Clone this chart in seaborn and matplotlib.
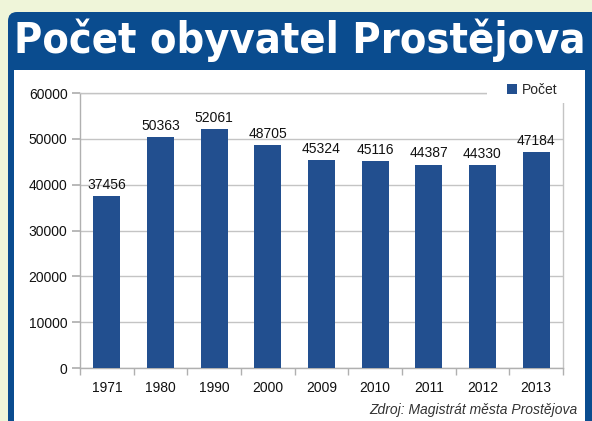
import matplotlib
matplotlib.use("Agg")
import matplotlib.pyplot as plt
import seaborn as sns
import pandas as pd
from matplotlib.patches import FancyBboxPatch, Rectangle

years = ["1971", "1980", "1990", "2000", "2009", "2010", "2011", "2012", "2013"]
population = [37456, 50363, 52061, 48705, 45324, 45116, 44387, 44330, 47184]
y_ticks = [0, 10000, 20000, 30000, 40000, 50000, 60000]
series_name = "Počet"
title = "Počet obyvatel Prostějova"
source = "Zdroj: Magistrát města Prostějova"

df = pd.DataFrame({"Rok": years, "Počet": population})

sns.set_theme(style="white")
plt.rcParams['font.family'] = ['Liberation Sans', 'DejaVu Sans']

BG = "#eff5d9"
FRAME = "#0a4c8f"
BAR = "#224f8f"
GRID = "#c4c4c4"

fig = plt.figure(figsize=(5.92, 4.21), dpi=100)
fig.patch.set_facecolor(BG)

frame = FancyBboxPatch((0.08, -0.3), 6.3, 4.09 + 0.3, boxstyle="round,pad=0,rounding_size=0.09",
                       transform=fig.dpi_scale_trans, facecolor=FRAME, edgecolor="none", zorder=-3)
fig.add_artist(frame)
panel = Rectangle((0.14, -0.2), 5.71, 3.51 + 0.2, transform=fig.dpi_scale_trans,
                  facecolor="white", edgecolor="none", zorder=-2)
fig.add_artist(panel)

fig.text(300 / 592, 1 - 40 / 421, title, color="white", fontsize=31, fontweight="bold",
         fontstretch="condensed", family=["DejaVu Sans"], ha="center", va="center")

ax = fig.add_axes([80 / 592, 1 - 368 / 421, (563 - 80) / 592, (368 - 93) / 421])
ax.set_facecolor("none")
sns.barplot(data=df, x="Rok", y="Počet", color=BAR, width=0.5, ax=ax, label=series_name,
            saturation=1, zorder=3, linewidth=0, edgecolor="none")
ax.set_ylim(0, 60000)
ax.set_xlim(-0.5, len(years) - 0.5)
ax.set_yticks(y_ticks)
ax.set_yticklabels([str(t) for t in y_ticks])
ax.yaxis.grid(True, color=GRID, linewidth=1, zorder=0)
ax.set_axisbelow(True)
for s in ["left", "bottom", "right", "top"]:
    ax.spines[s].set_visible(True)
    ax.spines[s].set_color(GRID)
    ax.spines[s].set_linewidth(1)
ax.spines["left"].set_color("#b0b0b0")
ax.spines["bottom"].set_color("#b0b0b0")
ax.set_xlabel("")
ax.set_ylabel("")
ax.tick_params(axis="y", length=6, color="#b0b0b0", labelsize=10, pad=3, labelcolor="#111111", left=True)
ax.tick_params(axis="x", which="major", length=0, labelsize=10, pad=9, labelcolor="#111111")
ax.set_xticks([i - 0.5 for i in range(len(years) + 1)], minor=True)
ax.tick_params(axis="x", which="minor", length=5, color="#b0b0b0", bottom=True)

for i, v in enumerate(population):
    ax.text(i, v + 900, str(v), ha="center", va="bottom", fontsize=10, color="#111111", zorder=4)

# white area behind the legend (covers top-right of plot frame)
cover = Rectangle((4.87, 3.18), 0.9, 0.3, transform=fig.dpi_scale_trans,
                  facecolor="white", edgecolor="none", zorder=5)
fig.add_artist(cover)

leg = fig.legend(handles=ax.get_legend_handles_labels()[0], labels=[series_name],
                 loc="center left", bbox_to_anchor=(507 / 592, 1 - 90 / 421), frameon=False,
                 fontsize=10, handlelength=0.7, handleheight=0.7, handletextpad=0.4,
                 borderpad=0, borderaxespad=0)
leg.set_zorder(10)
if ax.get_legend() is not None:
    ax.get_legend().remove()

fig.text(578 / 592, 1 - 410 / 421, source, ha="right", va="center", fontsize=10,
         style="italic", color="#333333")

fig.savefig("out.png", dpi=100, facecolor=BG)
